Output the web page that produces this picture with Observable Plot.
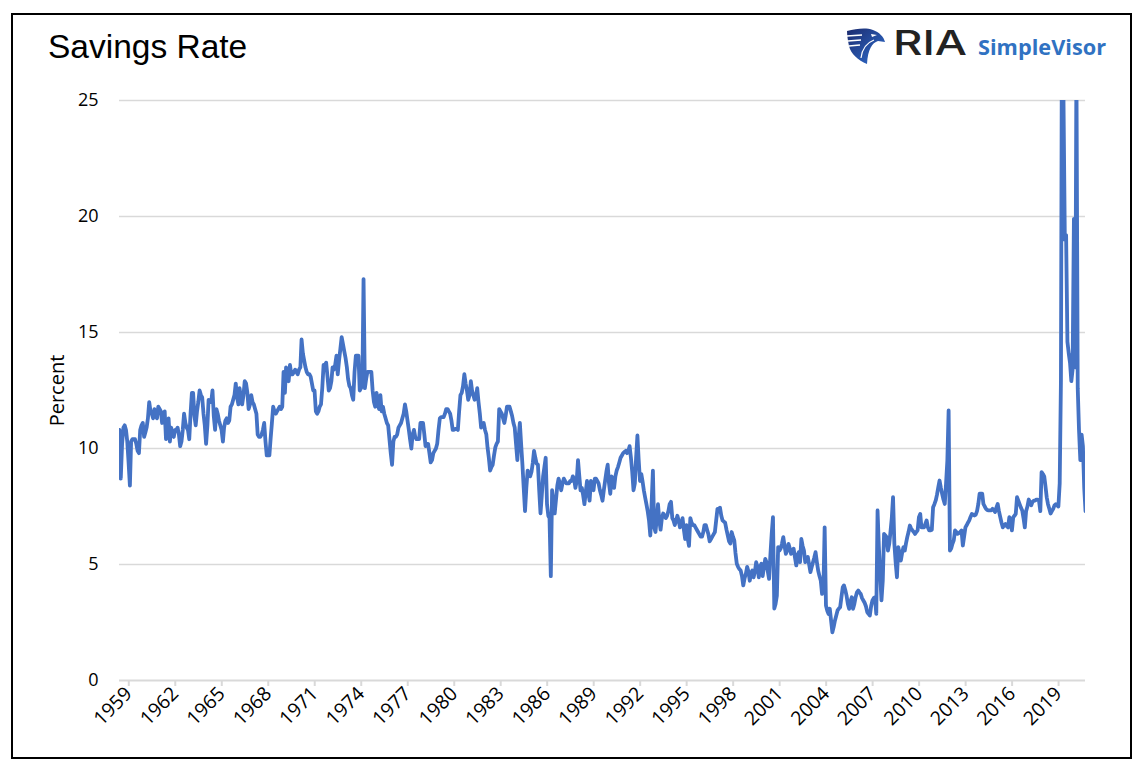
<!DOCTYPE html>
<html>
<head>
<meta charset="utf-8">
<script src="https://cdn.jsdelivr.net/npm/d3@7"></script>
<script src="https://cdn.jsdelivr.net/npm/@observablehq/plot@0.6"></script>
<style>
  html, body { margin: 0; padding: 0; background: #fff; }
  #wrap { position: relative; width: 1142px; height: 770px; overflow: hidden; }
  #frame { position: absolute; left: 11px; top: 13px; width: 1117px; height: 742px; border: 2px solid #000; }
  #chart { position: absolute; left: 0; top: 0; }
  #head { position: absolute; left: 0; top: 0; }
</style>
</head>
<body>
<div id="wrap">
  <div id="frame"></div>
  <div id="chart"></div>
  <svg id="head" width="1142" height="80" viewBox="0 0 1142 80">
    <defs>
      <linearGradient id="shieldGrad" x1="0" y1="0" x2="1" y2="1">
        <stop offset="0" stop-color="#1c2b6e"/>
        <stop offset="1" stop-color="#2f6fd0"/>
      </linearGradient>
    </defs>
    <text x="48" y="57.5" font-family="'Liberation Sans', Arial, sans-serif" font-size="33.5" fill="#000">Savings Rate</text>
    <g transform="translate(847,28)">
      <path d="M0,3 C9,1 18,-1 26,2 C32,4 37,9 38,14 L31,13 C25,15 21,21 20,36 C11,32 4,26 2,18 C1,13 0,8 0,3 Z" fill="url(#shieldGrad)"/>
      <path d="M0,8 L15,7 M1,13 L14,12 M2,18 L13,17" stroke="#fff" stroke-width="1.4" fill="none"/>
      <path d="M24,6 L30,7 L25,9 Z" fill="#fff"/>
      <path d="M14,30 C15,22 19,15 27,12" stroke="#fff" stroke-width="1.2" fill="none"/>
    </g>
    <text x="893" y="55" font-family="Inter, 'Noto Sans', sans-serif" font-weight="500" font-size="34" fill="#222" textLength="74" lengthAdjust="spacingAndGlyphs">RIA</text>
    <text x="978" y="54.5" font-family="'Open Sans', 'Noto Sans', sans-serif" font-weight="700" font-size="21" fill="#3072c2" textLength="128" lengthAdjust="spacingAndGlyphs">SimpleVisor</text>
  </svg>
</div>
<script>
// Personal savings rate, monthly, June 1959 - October 2021 (percent)
const startYear = 1959;
const startMonthIndex = 5; // June (0-based)

const rate1950s = [10.8, 8.7, 10.2, 10.9, 11.0, 10.8, 10.3];

const rate1960s = [
  9.4, 8.4, 10.3, 10.4, 10.4, 10.4, 10.2, 9.9, 9.8, 10.8, 11.0, 11.1,
  10.5, 10.7, 10.9, 11.3, 12.0, 11.6, 11.5, 11.3, 11.7, 11.4, 11.3, 11.8,
  11.7, 11.6, 11.1, 11.3, 11.6, 10.4, 10.6, 11.3, 10.3, 10.9, 10.6, 10.5,
  10.8, 10.8, 10.9, 10.6, 10.1, 10.3, 10.8, 11.5, 11.1, 10.9, 10.8, 10.4,
  11.5, 12.4, 12.4, 11.4, 11.0, 11.6, 12.0, 12.5, 12.3, 12.2, 11.5, 11.0,
  10.2, 11.0, 12.1, 12.0, 12.0, 12.5, 11.4, 10.8, 11.7, 11.5, 11.2, 11.0,
  10.8, 10.3, 10.9, 11.2, 11.3, 11.1, 11.2, 11.8, 11.9, 12.1, 12.3, 12.8,
  12.2, 11.9, 12.6, 12.2, 11.9, 12.3, 12.9, 12.8, 12.4, 11.7, 11.9, 12.3,
  12.0, 11.9, 11.7, 11.5, 10.6, 10.5, 10.5, 10.6, 10.8, 11.1, 10.3, 9.7,
  9.7, 9.7, 10.4, 11.1, 11.8, 11.6, 11.5, 11.6, 11.7, 11.8, 11.7, 11.8
];

const rate1970s = [
  13.3, 12.4, 13.5, 13.2, 12.9, 13.6, 13.2, 13.2, 13.3, 13.4, 13.3, 13.2,
  13.4, 13.5, 14.7, 14.1, 13.8, 13.5, 13.3, 13.2, 13.2, 13.1, 12.8, 12.5,
  12.5, 11.6, 11.5, 11.6, 11.8, 11.9, 12.6, 13.6, 13.6, 13.7, 13.1, 12.5,
  12.6, 12.9, 13.5, 13.4, 13.6, 14.0, 13.2, 13.8, 14.3, 14.8, 14.5, 14.2,
  13.9, 13.5, 13.0, 12.7, 12.6, 12.3, 12.1, 13.3, 14.0, 14.0, 14.0, 12.5,
  12.6, 12.8, 17.3, 12.6, 13.0, 13.3, 13.3, 13.3, 13.3, 12.5, 12.0, 11.8,
  12.4, 11.9, 11.7, 12.3, 11.6, 11.8, 11.5, 11.3, 11.1, 11.0, 10.4, 9.8,
  9.3, 10.3, 10.5, 10.5, 10.6, 10.9, 11.0, 11.1, 11.3, 11.5, 11.9, 11.6,
  11.2, 10.8, 10.4, 10.0, 10.6, 10.8, 10.5, 10.4, 10.4, 10.4, 11.1, 11.1,
  11.1, 10.6, 10.1, 10.2, 10.2, 9.8, 9.4, 9.5, 9.8, 9.9, 10.0, 10.2
];

const rate1980s = [
  10.8, 11.3, 11.35, 11.35, 11.35, 11.5, 11.7, 11.7, 11.6, 11.5, 11.2, 10.8,
  10.8, 10.85, 10.85, 10.8, 11.6, 12.3, 12.4, 12.7, 13.2, 12.8, 12.5, 12.1,
  12.3, 12.9, 12.5, 12.3, 12.1, 12.2, 12.6, 12.0, 11.5, 10.9, 11.0, 11.1,
  10.8, 10.6, 10.05, 9.6, 9.05, 9.2, 9.3, 9.7, 10.05, 10.2, 10.3, 11.7,
  11.6, 11.5, 11.3, 11.1, 11.4, 11.8, 11.8, 11.8, 11.6, 11.4, 11.1, 10.9,
  10.2, 9.5, 10.4, 11.1, 10.2, 9.3, 8.3, 7.3, 8.3, 9.05, 8.9, 8.8,
  9.0, 9.4, 9.9, 9.6, 9.35, 9.3, 8.2, 7.2, 8.0, 8.8, 9.2, 9.6,
  7.6, 7.1, 7.0, 4.5, 8.2, 7.6, 7.2, 7.8, 8.4, 8.7, 8.5, 8.2,
  8.5, 8.7, 8.6, 8.5, 8.5, 8.5, 8.6, 8.6, 8.8, 8.7, 8.3, 8.6,
  9.5, 8.8, 8.2, 8.3, 8.0, 7.6, 8.1, 8.6, 8.1, 7.75, 8.6, 8.4
];

const rate1990s = [
  8.2, 8.7, 8.7, 8.6, 8.5, 8.2, 8.0, 7.75, 8.2, 8.6, 9.0, 9.3,
  8.5, 8.05, 8.8, 8.6, 8.3, 8.8, 9.05, 9.2, 9.4, 9.6, 9.7, 9.8,
  9.85, 9.9, 9.8, 9.9, 10.1, 9.6, 9.0, 8.2, 8.5, 9.6, 10.56, 9.5,
  8.6, 8.9, 8.6, 8.2, 7.9, 7.6, 7.3, 6.9, 6.25, 7.6, 9.05, 6.6,
  6.4, 7.0, 7.6, 6.9, 6.5, 7.0, 7.2, 7.1, 7.0, 7.1, 7.3, 7.6,
  7.7, 7.0, 6.9, 6.7, 6.9, 7.1, 6.9, 6.6, 6.7, 7.0, 6.5, 6.1,
  6.7, 6.1, 5.8, 7.0, 6.8, 6.7, 6.7, 6.6, 6.5, 6.4, 6.3, 6.2,
  6.2, 6.4, 6.7, 6.7, 6.5, 6.3, 6.0, 6.1, 6.2, 6.3, 6.4, 6.9,
  7.4, 7.4, 7.45, 7.1, 6.9, 6.85, 6.8, 6.5, 6.25, 6.0, 5.9, 6.4,
  6.2, 6.04, 5.5, 5.03, 4.9, 4.8, 4.75, 4.5, 4.1, 4.4, 4.6, 4.9
];

const rate2000s = [
  4.7, 4.3, 4.6, 4.74, 4.45, 4.7, 5.1, 4.9, 4.45, 4.9, 5.03, 4.5,
  4.9, 5.24, 5.1, 4.7, 4.38, 5.4, 6.3, 7.04, 3.1, 3.3, 3.66, 5.75,
  5.6, 5.7, 5.9, 6.18, 5.8, 5.46, 5.6, 5.89, 5.7, 5.46, 5.55, 5.68,
  5.3, 4.96, 5.4, 5.53, 5.1, 6.1, 5.8, 5.6, 5.1, 5.2, 5.32, 5.0,
  4.67, 4.9, 5.1, 5.3, 5.53, 5.1, 4.74, 4.5, 4.3, 3.73, 3.9, 6.6,
  3.23, 3.0, 2.87, 3.09, 2.6, 2.08, 2.3, 2.59, 2.8, 3.02, 3.1, 3.16,
  3.6, 4.02, 4.1, 3.9, 3.66, 3.3, 3.09, 3.4, 3.59, 3.09, 3.3, 3.59,
  3.8, 3.88, 3.8, 3.73, 3.55, 3.45, 3.35, 3.2, 2.95, 2.87, 2.8, 3.2,
  3.45, 3.55, 3.59, 2.87, 7.33, 5.75, 4.6, 3.45, 4.3, 6.32, 6.25, 6.18,
  5.6, 5.9, 6.4, 7.0, 7.9, 5.89, 5.1, 4.45, 5.75, 5.5, 5.17, 5.5
];

const rate2010s = [
  5.75, 5.6, 5.9, 6.18, 6.4, 6.68, 6.55, 6.47, 6.4, 6.32, 6.4, 6.47,
  7.04, 7.18, 6.6, 6.6, 6.6, 6.75, 6.9, 6.6, 6.47, 6.47, 6.5, 7.47,
  7.6, 7.76, 8.0, 8.33, 8.62, 8.3, 8.05, 7.8, 7.61, 8.48, 9.48, 11.64,
  5.6, 5.7, 5.89, 6.04, 6.47, 6.4, 6.32, 6.35, 6.4, 6.47, 5.82, 6.2,
  6.6, 6.7, 6.8, 6.9, 7.05, 7.18, 7.15, 7.11, 7.15, 7.3, 7.61, 8.05,
  8.05, 8.05, 7.61, 7.5, 7.4, 7.35, 7.33, 7.33, 7.33, 7.4, 7.35, 7.26,
  7.45, 7.61, 7.3, 7.04, 6.8, 6.6, 6.7, 6.75, 6.65, 6.6, 7.04, 6.8,
  6.47, 7.04, 7.1, 7.18, 7.9, 7.75, 7.6, 7.45, 7.33, 7.0, 6.6, 7.3,
  7.5, 7.8, 7.7, 7.55, 7.7, 7.75, 7.75, 7.8, 7.8, 7.75, 7.3, 8.98,
  8.9, 8.8, 8.4, 7.9, 7.6, 7.4, 7.2, 7.3, 7.4, 7.55, 7.6, 7.55
];

const rate2020s = [
  7.5, 8.5, 12.9, 33.8, 24.9, 19.0, 19.2, 14.6, 14.1, 13.7, 12.9, 13.4,
  19.9, 13.5, 26.6, 12.6, 10.8, 9.5, 10.6, 10.1, 8.3, 7.3
];

const tickYears = [1959, 1962, 1965, 1968, 1971, 1974, 1977, 1980, 1983, 1986, 1989,
                   1992, 1995, 1998, 2001, 2004, 2007, 2010, 2013, 2016, 2019];
const yTicks = [0, 5, 10, 15, 20, 25];
const yLabel = "Percent";

const monthly = [].concat(rate1950s, rate1960s, rate1970s, rate1980s, rate1990s, rate2000s, rate2010s, rate2020s);
const series = monthly.map((v, i) => ({ date: new Date(Date.UTC(startYear, startMonthIndex + i, 1)), rate: v }));
const xTicks = tickYears.map(y => new Date(Date.UTC(y, 6, 1)));

const chart = Plot.plot({
  width: 1142,
  height: 770,
  marginLeft: 119,
  marginRight: 57,
  marginTop: 100,
  marginBottom: 90,
  style: { fontFamily: "'Open Sans', sans-serif", color: "#000", background: "transparent", overflow: "visible" },
  x: { type: "utc" },
  y: { domain: [0, 25] },
  marks: [
    Plot.gridY(yTicks.filter(d => d > 0), { stroke: "#d9d9d9", strokeOpacity: 1, strokeWidth: 1.5 }),
    Plot.ruleY([0], { stroke: "#d9d9d9", strokeWidth: 2 }),
    Plot.axisY(yTicks, { tickSize: 0, tickPadding: 21, fontSize: 18, fill: "#000", label: null }),
    Plot.axisX(xTicks, {
      tickSize: 6, stroke: "#d9d9d9", strokeWidth: 2, strokeOpacity: 1,
      tickRotate: -45, tickPadding: 4, dx: 8, fontSize: 19.5, fill: "#000",
      tickFormat: d => String(d.getUTCFullYear()), label: null
    }),
    Plot.line(series, { x: "date", y: "rate", stroke: "#4472c4", strokeWidth: 3.8, clip: true, strokeLinejoin: "round", curve: "linear" }),
    Plot.text([yLabel], { frameAnchor: "left", dx: -62, rotate: -90, fontSize: 20, fill: "#000", textAnchor: "middle" })
  ]
});
document.getElementById("chart").appendChild(chart);
</script>
</body>
</html>
